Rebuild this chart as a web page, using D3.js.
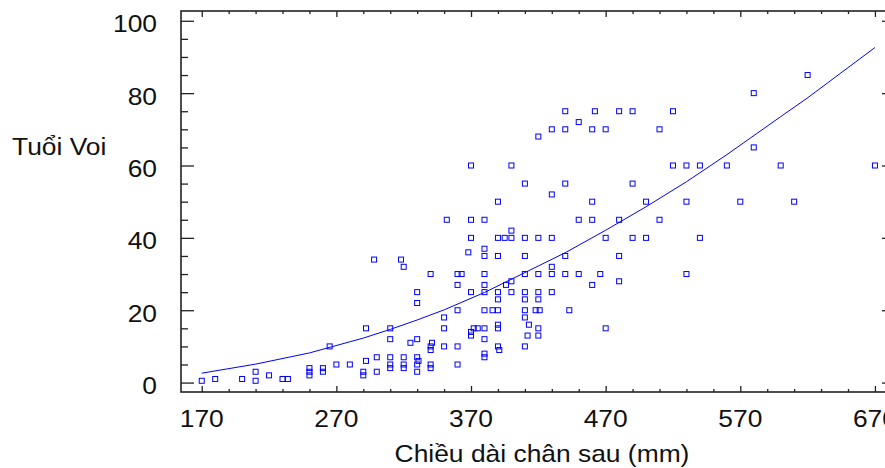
<!DOCTYPE html>
<html>
<head>
  <meta charset="utf-8">
  <title>Tuổi Voi</title>
  <script src="https://cdnjs.cloudflare.com/ajax/libs/d3/7.8.5/d3.min.js"></script>
  <style>
    body { margin: 0; background: #fff; }
    svg { display: block; }
    .lbl { font-family: "Liberation Sans", Arial, sans-serif; font-size: 24px; fill: #111; }
    .ax path { display: none; }
    .ax line { stroke: #222; stroke-width: 1.3; }
  </style>
</head>
<body>
<svg id="chart" width="885" height="468"></svg>
<script>
// hind leg length (mm) and age
var legLen = [170,180,200,210,210,220,230,234,250,250,250,260,260,265,270,280,290,290,292,292,
  298,300,300,310,310,310,310,310,318,320,320,320,320,325,330,330,330,330,330,330,
  331,340,340,340,341,340,340,350,350,350,352,360,363,360,360,360,360,368,370,370,
  370,370,370,370,372,375,380,380,380,380,380,380,380,380,380,380,380,386,390,390,
  390,390,390,390,390,390,390,391,395,396,400,400,400,400,400,410,410,410,410,410,
  410,410,410,410,413,412,420,420,420,420,420,421,418,420,420,430,430,430,430,430,
  430,440,440,440,440,440,443,450,450,450,460,460,460,460,462,466,470,470,470,480,
  480,480,480,490,490,490,500,500,510,510,520,520,530,530,530,540,540,560,570,580,
  580,600,610,620,670];
var age = [0.5,1,1,3,0.5,2,1,1,4,3,2,4,3,10,5,5,3,2,15,6,
  34,7,3,15,12,7,5,4,34,32,7,5,4,11,25,22,12,7,5,3,
  6,30,10,9,11,5,4,18,15,10,45,30,30,27,20,10,5,36,60,45,
  40,25,14,13,15,15,45,37,35,30,27,25,20,15,12,8,7,20,50,40,
  35,25,23,20,16,15,10,9,40,27,60,42,40,28,25,55,40,35,30,25,
  23,20,18,10,16,13,68,40,30,25,23,20,20,15,13,70,52,40,32,30,
  25,75,70,55,35,30,20,72,45,30,70,50,45,27,75,30,70,40,15,75,
  45,35,28,75,55,40,50,40,70,45,75,60,60,50,30,60,40,60,50,80,
  65,60,50,85,60];

// fitted curve
var fitX = [170,210,250,290,310,330,350,380,410,440,470,500,530,560,600,620,670];
var fitY = [2.6,5.1,8.2,12.3,14.7,17.3,20.1,24.9,30.4,35.9,42.1,48.6,55.5,63.0,73.5,78.7,92.6];

var xMajor = [170,270,370,470,570,670];
var yMajor = [0,20,40,60,80,100];

var svg = d3.select("#chart");
var pl = 181, pr = 895, pt = 11, pb = 392;

var x = d3.scaleLinear().domain([154.6, 684.9]).range([pl, pr]);
var y = d3.scaleLinear().domain([-2.6, 102.7]).range([pb, pt]);

var xMinor = d3.range(170, 685, 20).filter(v => xMajor.indexOf(v) < 0);
var yMinor = d3.range(0, 101, 5).filter(v => yMajor.indexOf(v) < 0);

function axisGroup(axis, tx, ty) {
  svg.append("g").attr("class", "ax")
    .attr("transform", "translate(" + tx + "," + ty + ")")
    .call(axis);
}
axisGroup(d3.axisBottom(x).tickValues(xMajor).tickSize(-6).tickFormat(""), 0, pb);
axisGroup(d3.axisBottom(x).tickValues(xMinor).tickSize(-3).tickFormat(""), 0, pb);
axisGroup(d3.axisTop(x).tickValues(xMajor).tickSize(-6).tickFormat(""), 0, pt);
axisGroup(d3.axisTop(x).tickValues(xMinor).tickSize(-3).tickFormat(""), 0, pt);
axisGroup(d3.axisLeft(y).tickValues(yMajor).tickSize(-13).tickFormat(""), pl, 0);
axisGroup(d3.axisLeft(y).tickValues(yMinor).tickSize(-7).tickFormat(""), pl, 0);
axisGroup(d3.axisRight(y).tickValues(yMajor).tickSize(-13).tickFormat(""), pr, 0);
axisGroup(d3.axisRight(y).tickValues(yMinor).tickSize(-7).tickFormat(""), pr, 0);

// frame
svg.append("rect")
  .attr("x", pl).attr("y", pt)
  .attr("width", pr - pl).attr("height", pb - pt)
  .attr("fill", "none").attr("stroke", "#222").attr("stroke-width", 1.6);

// points
svg.append("g").selectAll("rect")
  .data(legLen.map((v, i) => [v, age[i]]))
  .enter().append("rect")
  .attr("x", d => x(d[0]) - 2.5)
  .attr("y", d => y(d[1]) - 2.5)
  .attr("width", 5).attr("height", 5)
  .attr("fill", "none")
  .attr("stroke", "#0000ff")
  .attr("stroke-width", 1);

// curve
var line = d3.line().x(d => x(d[0])).y(d => y(d[1]));
svg.append("path")
  .datum(fitX.map((v, i) => [v, fitY[i]]))
  .attr("d", line)
  .attr("fill", "none")
  .attr("stroke", "#0000ff")
  .attr("stroke-width", 1);

// labels (the original text is a bit wide)
function label(txt, px, py, anchor) {
  svg.append("text").attr("class", "lbl")
    .attr("transform", "translate(" + px + "," + py + ") scale(1.1,1)")
    .attr("text-anchor", anchor)
    .text(txt);
}
yMajor.forEach(v => label(v, 157, y(v) + 11.5, "end"));
xMajor.forEach(v => label(v, x(v), 427, "middle"));
label("Chiều dài chân sau (mm)", 542, 462, "middle");
label("Tuổi Voi", 12, 155, "start");
</script>
</body>
</html>
